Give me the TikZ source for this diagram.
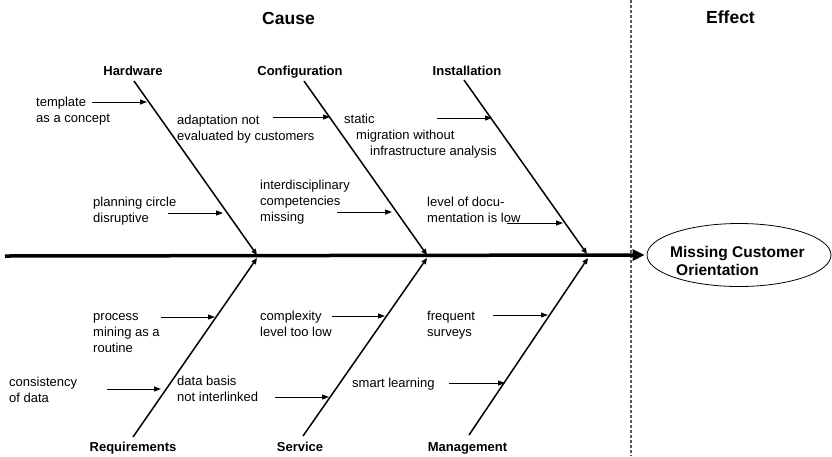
\documentclass[tikz,border=0pt]{standalone}
\usepackage{fontspec}
\setmainfont{Liberation Sans}
\usetikzlibrary{arrows.meta,shapes.geometric}
\newcommand\mltext[1]{\begin{tabular}[t]{@{}l@{}}#1\end{tabular}}
\begin{document}
\begin{tikzpicture}[x=1pt,y=-1pt,
  txt/.style={anchor=base west, inner sep=0pt, font=\fontsize{13}{16}\selectfont},
  cat/.style={anchor=base, inner sep=0pt, font=\fontsize{13}{16}\selectfont\bfseries},
  ttl/.style={anchor=base, inner sep=0pt, font=\fontsize{17.5}{20}\selectfont\bfseries},
  bone/.style={line width=1.5pt, -{Triangle[length=6pt,width=5pt]}},
  cause/.style={line width=1pt, -{Triangle[length=7pt,width=5pt]}},
  spine/.style={line width=3.5pt, -{Triangle[length=12pt,width=11pt]}},
  divider/.style={line width=1.2pt, black!65, dash pattern=on 3pt off 2pt},
]
\useasboundingbox (0,0) rectangle (832,456);

% titles
\node[ttl] (cause) at (288.5,24) {Cause};
\node[ttl] (effect) at (730.5,23.5) {Effect};

% divider
\coordinate (d0) at (631,0);
\coordinate (d1) at (631,456);
\draw[divider] (d0) -- (d1);

% effect
\node[draw, ellipse, line width=0.8pt, minimum width=184pt, minimum height=63pt, inner sep=0pt] (eff) at (739,255) {};
\node[anchor=base west, inner sep=0pt, font=\fontsize{15.5}{18}\selectfont\bfseries] (efftext) at (670,257.5)
  {\mltext{Missing Customer\\\hspace*{6pt}Orientation}};

% spine
\coordinate (s0) at (5,256);
\draw[spine] (s0) -- ([xshift=-2pt]eff.west);

% category labels
\node[cat] (hw) at (133,75) {Hardware};
\node[cat] (cf) at (300,75) {Configuration};
\node[cat] (in) at (467,75) {Installation};
\node[cat] (rq) at (133,451) {Requirements};
\node[cat] (sv) at (300,451) {Service};
\node[cat] (mg) at (467.5,451) {Management};

% bones
\coordinate (hw0) at (134,81);   \coordinate (hw1) at (257,255);
\coordinate (cf0) at (304,81);   \coordinate (cf1) at (427,255);
\coordinate (in0) at (464,80);   \coordinate (in1) at (587,254);
\coordinate (rq0) at (133,437);  \coordinate (rq1) at (257,258);
\coordinate (sv0) at (303,436);  \coordinate (sv1) at (427,258);
\coordinate (mg0) at (469,435);  \coordinate (mg1) at (588,258);
\draw[bone] (hw0) -- (hw1);
\draw[bone] (cf0) -- (cf1);
\draw[bone] (in0) -- (in1);
\draw[bone] (rq0) -- (rq1);
\draw[bone] (sv0) -- (sv1);
\draw[bone] (mg0) -- (mg1);

% cause texts
\node[txt] (t1) at (36,106.5) {\mltext{template\\as a concept}};
\node[txt] (t2) at (177,124.5) {\mltext{adaptation not\\evaluated by customers}};
\node[txt] (t3) at (93,206) {\mltext{planning circle\\disruptive}};
\node[txt] (t4) at (260,189.5) {\mltext{interdisciplinary\\competencies\\missing}};
\node[txt] (t5) at (344,123.5) {\mltext{static\\\hspace*{12pt}migration without\\\hspace*{26pt}infrastructure analysis}};
\node[txt] (t6) at (427,206) {\mltext{level of docu-\\mentation is low}};
\node[txt] (t7) at (93,320.5) {\mltext{process\\mining as a\\routine}};
\node[txt] (t8) at (9,386) {\mltext{consistency\\of data}};
\node[txt] (t9) at (260,320.5) {\mltext{complexity\\level too low}};
\node[txt] (t10) at (177,385.5) {\mltext{data basis\\not interlinked}};
\node[txt] (t11) at (427,320.5) {\mltext{frequent\\surveys}};
\node[txt] (t12) at (352,387) {smart learning};

% cause arrows
\coordinate (a1) at (92,102);   \coordinate (b1) at (147,102);
\coordinate (a2) at (273,117);  \coordinate (b2) at (330,117);
\coordinate (a3) at (168,213);  \coordinate (b3) at (223,213);
\coordinate (a4) at (337,212);  \coordinate (b4) at (392,212);
\coordinate (a5) at (437,118);  \coordinate (b5) at (492,118);
\coordinate (a6) at (507,223);  \coordinate (b6) at (563,223);
\coordinate (a7) at (161,317);  \coordinate (b7) at (215,317);
\coordinate (a8) at (107,389);  \coordinate (b8) at (161,389);
\coordinate (a9) at (332,316);  \coordinate (b9) at (385,316);
\coordinate (a10) at (275,397); \coordinate (b10) at (329,397);
\coordinate (a11) at (493,315); \coordinate (b11) at (548,315);
\coordinate (a12) at (449,383); \coordinate (b12) at (505,383);
\foreach \i in {1,...,12} {\draw[cause] (a\i) -- (b\i);}
\end{tikzpicture}
\end{document}
